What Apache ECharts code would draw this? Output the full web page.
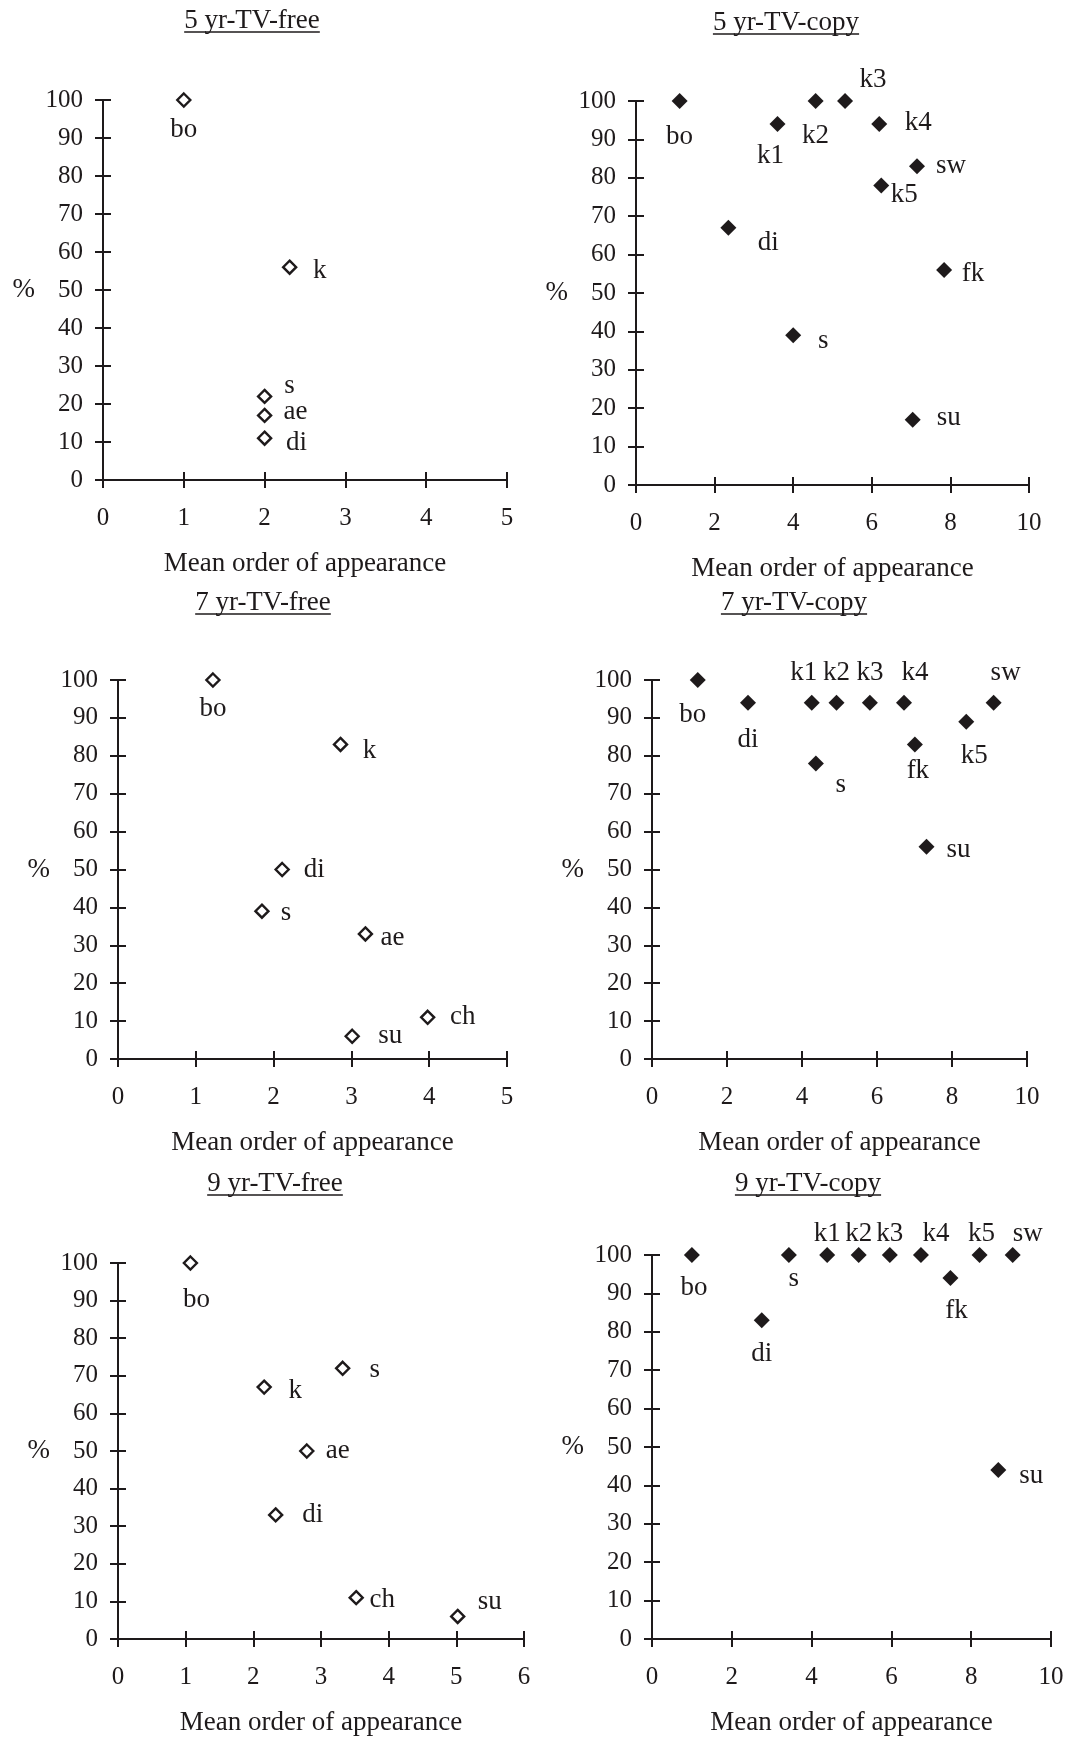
<!DOCTYPE html>
<html>
<head>
<meta charset="utf-8">
<script src="https://cdn.jsdelivr.net/npm/echarts@6/dist/echarts.min.js"></script>
<style>
html,body{margin:0;padding:0;background:#fff;}
#chart{width:1068px;height:1737px;}
</style>
</head>
<body>
<div id="chart"></div>
<script>
// ---------- DATA ----------
const titles = ['5 yr-TV-free', '5 yr-TV-copy', '7 yr-TV-free', '7 yr-TV-copy', '9 yr-TV-free', '9 yr-TV-copy'];
const xAxisMax = [5, 10, 5, 10, 6, 10];
const xAxisStep = [1, 2, 1, 2, 1, 2];
const yTicks = [0, 10, 20, 30, 40, 50, 60, 70, 80, 90, 100];

const free5Names = ['bo', 'k', 's', 'ae', 'di'];
const free5X = [1.0, 2.31, 2.0, 2.0, 2.0];
const free5Y = [100, 56, 22, 17, 11];

const copy5Names = ['bo', 'k1', 'k2', 'k3', 'k4', 'sw', 'k5', 'di', 'fk', 's', 'su'];
const copy5X = [1.11, 3.60, 4.57, 5.32, 6.19, 7.15, 6.24, 2.35, 7.84, 4.0, 7.04];
const copy5Y = [100, 94, 100, 100, 94, 83, 78, 67, 56, 39, 17];

const free7Names = ['bo', 'k', 'di', 's', 'ae', 'ch', 'su'];
const free7X = [1.22, 2.86, 2.11, 1.85, 3.18, 3.98, 3.01];
const free7Y = [100, 83, 50, 39, 33, 11, 6];

const copy7Names = ['bo', 'di', 'k1', 'k2', 'k3', 'k4', 's', 'fk', 'k5', 'sw', 'su'];
const copy7X = [1.22, 2.56, 4.26, 4.92, 5.81, 6.72, 4.37, 7.01, 8.38, 9.11, 7.32];
const copy7Y = [100, 94, 94, 94, 94, 94, 78, 83, 89, 94, 56];

const free9Names = ['bo', 'k', 's', 'ae', 'di', 'ch', 'su'];
const free9X = [1.07, 2.16, 3.32, 2.79, 2.33, 3.52, 5.02];
const free9Y = [100, 67, 72, 50, 33, 11, 6];

const copy9Names = ['bo', 'di', 's', 'k1', 'k2', 'k3', 'k4', 'fk', 'k5', 'sw', 'su'];
const copy9X = [1.0, 2.75, 3.43, 4.39, 5.18, 5.96, 6.74, 7.48, 8.21, 9.04, 8.68];
const copy9Y = [100, 83, 100, 100, 100, 100, 100, 94, 100, 100, 44];

const panelNames = [free5Names, copy5Names, free7Names, copy7Names, free9Names, copy9Names];
const panelX = [free5X, copy5X, free7X, copy7X, free9X, copy9X];
const panelY = [free5Y, copy5Y, free7Y, copy7Y, free9Y, copy9Y];
const panelFilled = [false, true, false, true, false, true];

// ---------- LAYOUT / STYLE ----------
const INK = '#1e1a1b';
const FONT = '"Liberation Serif", "Times New Roman", serif';
const grids = [
  {left: 103, top: 100, width: 404, height: 380, tx: 252, ty: 21},
  {left: 636, top: 101, width: 393, height: 384, tx: 786, ty: 23},
  {left: 118, top: 680, width: 389, height: 379, tx: 263, ty: 603},
  {left: 652, top: 680, width: 375, height: 379, tx: 794, ty: 603},
  {left: 118, top: 1263, width: 406, height: 379, tx: 275, ty: 1184},
  {left: 652, top: 1255, width: 399, height: 386, tx: 808, ty: 1184}
];
const labelOffsets = [
  {bo: [0, 30], k: [30, 4], s: [25, -10], ae: [31, -3], di: [32, 5]},
  {bo: [0, 36], k1: [-7, 32], k2: [0, 35], k3: [28, -21], k4: [39, -1], sw: [34, 0], k5: [23, 9], di: [40, 15], fk: [29, 4], s: [30, 6], su: [36, -2]},
  {bo: [0, 29], k: [29, 6], di: [32, 0], s: [24, 2], ae: [27, 4], ch: [35, 0], su: [38, 0]},
  {bo: [-5, 35], di: [0, 37], k1: [-8, -30], k2: [0, -30], k3: [0, -30], k4: [11, -30], sw: [12, -30], s: [25, 22], fk: [3, 26], k5: [8, 34], su: [32, 3]},
  {bo: [6, 37], k: [31, 4], s: [32, 2], ae: [31, 0], di: [37, 0], ch: [26, 2], su: [32, -15]},
  {bo: [2, 33], di: [0, 34], s: [5, 24], k1: [0, -21], k2: [0, -21], k3: [0, -21], k4: [15, -21], k5: [2, -21], sw: [15, -21], fk: [6, 33], su: [33, 6]}
];

const TITLE_SIZE = 27, TICK_SIZE = 25, NAME_SIZE = 27, POINT_SIZE = 27;

const measureCtx = document.createElement('canvas').getContext('2d');
function textWidth(str, size) {
  measureCtx.font = size + 'px ' + FONT;
  return measureCtx.measureText(str).width;
}

const option = {
  backgroundColor: '#fff',
  animation: false,
  textStyle: {fontFamily: FONT, color: INK},
  grid: [], xAxis: [], yAxis: [], series: [], title: [], graphic: []
};

grids.forEach((g, p) => {
  option.grid.push({left: g.left, top: g.top, width: g.width, height: g.height});
  const xi = option.xAxis.length, yi = option.yAxis.length;
  const tickStyle = {color: INK, width: 2};
  // primary axes
  option.xAxis.push({
    type: 'value', gridIndex: p, min: 0, max: xAxisMax[p], interval: xAxisStep[p],
    axisLine: {show: true, onZero: true, lineStyle: {color: INK, width: 2}},
    axisTick: {show: true, inside: true, length: 8, lineStyle: tickStyle},
    axisLabel: {margin: 26, fontSize: TICK_SIZE, fontFamily: FONT, color: INK},
    splitLine: {show: false},
    name: 'Mean order of appearance', nameLocation: 'middle', nameGap: 70,
    nameTextStyle: {fontSize: NAME_SIZE, fontFamily: FONT, color: INK}
  });
  option.yAxis.push({
    type: 'value', gridIndex: p, min: 0, max: 100, interval: 10,
    axisLine: {show: true, onZero: true, lineStyle: {color: INK, width: 2}},
    axisTick: {show: true, inside: true, length: 8, lineStyle: tickStyle},
    axisLabel: {margin: 20, fontSize: TICK_SIZE, fontFamily: FONT, color: INK,
      formatter: v => yTicks.indexOf(v) >= 0 ? String(v) : ''},
    splitLine: {show: false},
    name: '%', nameLocation: 'middle', nameRotate: 0, nameGap: 68,
    nameTextStyle: {fontSize: NAME_SIZE, fontFamily: FONT, color: INK}
  });
  // secondary axes: only outward half of the crossing tick marks
  option.xAxis.push({
    type: 'value', gridIndex: p, position: 'top', min: 0, max: xAxisMax[p], interval: xAxisStep[p],
    axisLine: {show: true, onZero: true, onZeroAxisIndex: yi, lineStyle: {color: INK, width: 2}},
    axisTick: {show: true, inside: true, length: 8, lineStyle: tickStyle},
    axisLabel: {show: false}, splitLine: {show: false}
  });
  option.yAxis.push({
    type: 'value', gridIndex: p, position: 'right', min: 0, max: 100, interval: 10,
    axisLine: {show: true, onZero: true, onZeroAxisIndex: xi, lineStyle: {color: INK, width: 2}},
    axisTick: {show: true, inside: true, length: 8, lineStyle: tickStyle},
    axisLabel: {show: false}, splitLine: {show: false}
  });

  const names = panelNames[p], xs = panelX[p], ys = panelY[p];
  const filled = panelFilled[p];
  option.series.push({
    type: 'scatter', name: titles[p], xAxisIndex: xi, yAxisIndex: yi,
    symbol: 'diamond', symbolSize: filled ? 16 : 13,
    itemStyle: filled ? {color: INK, opacity: 1} : {color: '#fff', borderColor: INK, borderWidth: 2.4, opacity: 1},
    label: {show: true, position: 'inside', formatter: '{b}', fontSize: POINT_SIZE, fontFamily: FONT, color: INK},
    emphasis: {disabled: true},
    data: names.map((n, i) => ({
      name: n, value: [xs[i], ys[i]],
      label: {offset: labelOffsets[p][n] || [28, 0]}
    }))
  });

  const w = textWidth(titles[p], TITLE_SIZE);
  option.title.push({
    text: titles[p], left: g.tx - w / 2, top: g.ty - TITLE_SIZE / 2, padding: 0,
    textStyle: {fontSize: TITLE_SIZE, fontWeight: 'normal', fontFamily: FONT, color: INK}
  });
  option.graphic.push({
    type: 'line', silent: true,
    shape: {x1: g.tx - w / 2, y1: g.ty + 11, x2: g.tx + w / 2, y2: g.ty + 11},
    style: {stroke: INK, lineWidth: 1.5}
  });
});

const chart = echarts.init(document.getElementById('chart'), null, {renderer: 'canvas'});
chart.setOption(option);
</script>
</body>
</html>
